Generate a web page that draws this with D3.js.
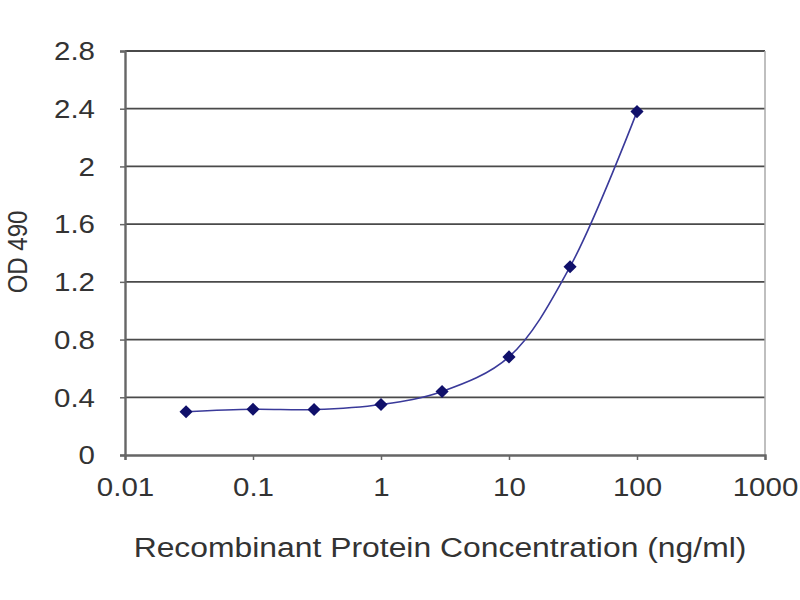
<!DOCTYPE html>
<html>
<head>
<meta charset="utf-8">
<script src="https://cdn.jsdelivr.net/npm/d3@7"></script>
<style>
  body { margin: 0; background: #fff; }
  text { font-family: "Liberation Sans", Arial, sans-serif; }
</style>
</head>
<body>
<div id="root"></div>
<script>
// concentration (ng/ml) and OD 490 readings
const concentrations = [0.03, 0.1, 0.3, 1, 3, 10, 30, 100]
const odValues = [0.30, 0.317, 0.315, 0.35, 0.44, 0.68, 1.305, 2.38]
const xTicks = [0.01, 0.1, 1, 10, 100, 1000]
const yTicks = [0, 0.4, 0.8, 1.2, 1.6, 2, 2.4, 2.8]

const width = 800
const height = 600
const margin = { top: 51, right: 35, bottom: 145, left: 125 }
// the source picture is a bit wider than tall, text looks stretched
const stretch = 1.18

const svg = d3.select('#root').append('svg')
    .attr('width', width).attr('height', height)

const x = d3.scaleLog()
    .domain([0.01, 1000])
    .range([margin.left, width - margin.right])

const y = d3.scaleLinear()
    .domain([0, 2.8])
    .range([height - margin.bottom, margin.top])

// gridlines
svg.append('g').selectAll('line').data(yTicks.slice(1))
    .enter().append('line')
    .attr('x1', margin.left).attr('x2', width - margin.right)
    .attr('y1', d => y(d)).attr('y2', d => y(d))
    .attr('stroke', '#4a4a4a').attr('stroke-width', 1.8)

// right side of the plot box
svg.append('line')
    .attr('x1', width - margin.right).attr('x2', width - margin.right)
    .attr('y1', margin.top).attr('y2', height - margin.bottom)
    .attr('stroke', '#aaa').attr('stroke-width', 1.5)

const xAxis = svg.append('g')
    .attr('transform', `translate(0,${height - margin.bottom})`)
    .call(d3.axisBottom(x).tickValues(xTicks).tickFormat(d => String(d)).tickSize(5).tickPadding(18))
const yAxis = svg.append('g')
    .attr('transform', `translate(${margin.left},0)`)
    .call(d3.axisLeft(y).tickValues(yTicks).tickFormat(d => String(d)).tickSize(5).tickPadding(25))

;[xAxis, yAxis].forEach(g => {
    g.select('.domain').attr('stroke', '#666').attr('stroke-width', 2.4)
    g.selectAll('.tick line').attr('stroke', '#666').attr('stroke-width', 1.5)
    g.selectAll('.tick text').attr('fill', '#333').style('font-size', '25px')
})
yAxis.selectAll('.tick text').attr('dy', '0.35em')

const line = d3.line()
    .x((d, i) => x(concentrations[i]))
    .y(d => y(d))
    .curve(d3.curveCatmullRom.alpha(0.5))

svg.append('path').datum(odValues)
    .attr('d', line)
    .attr('fill', 'none')
    .attr('stroke', '#3a3a9a').attr('stroke-width', 1.6)

svg.selectAll('.pt').data(odValues)
    .enter().append('path')
    .attr('class', 'pt')
    .attr('d', d3.symbol().type(d3.symbolDiamond2).size(110))
    .attr('transform', (d, i) => `translate(${x(concentrations[i])},${y(d)})`)
    .attr('fill', '#10106a')

svg.append('text')
    .attr('x', 440).attr('y', 557)
    .attr('text-anchor', 'middle')
    .attr('fill', '#333').style('font-size', '27px')
    .text('Recombinant Protein Concentration (ng/ml)')

svg.append('text')
    .attr('transform', `translate(27,252) scale(${stretch},1) rotate(-90)`)
    .attr('text-anchor', 'middle')
    .attr('fill', '#333').style('font-size', '24px')
    .text('OD 490')

// widen the horizontal texts to match the reference's stretched look
svg.selectAll('text').each(function () {
    const t = d3.select(this)
    if ((t.attr('transform') || '').includes('rotate')) return
    const len = this.getComputedTextLength()
    t.attr('textLength', len * stretch).attr('lengthAdjust', 'spacingAndGlyphs')
})
</script>
</body>
</html>
